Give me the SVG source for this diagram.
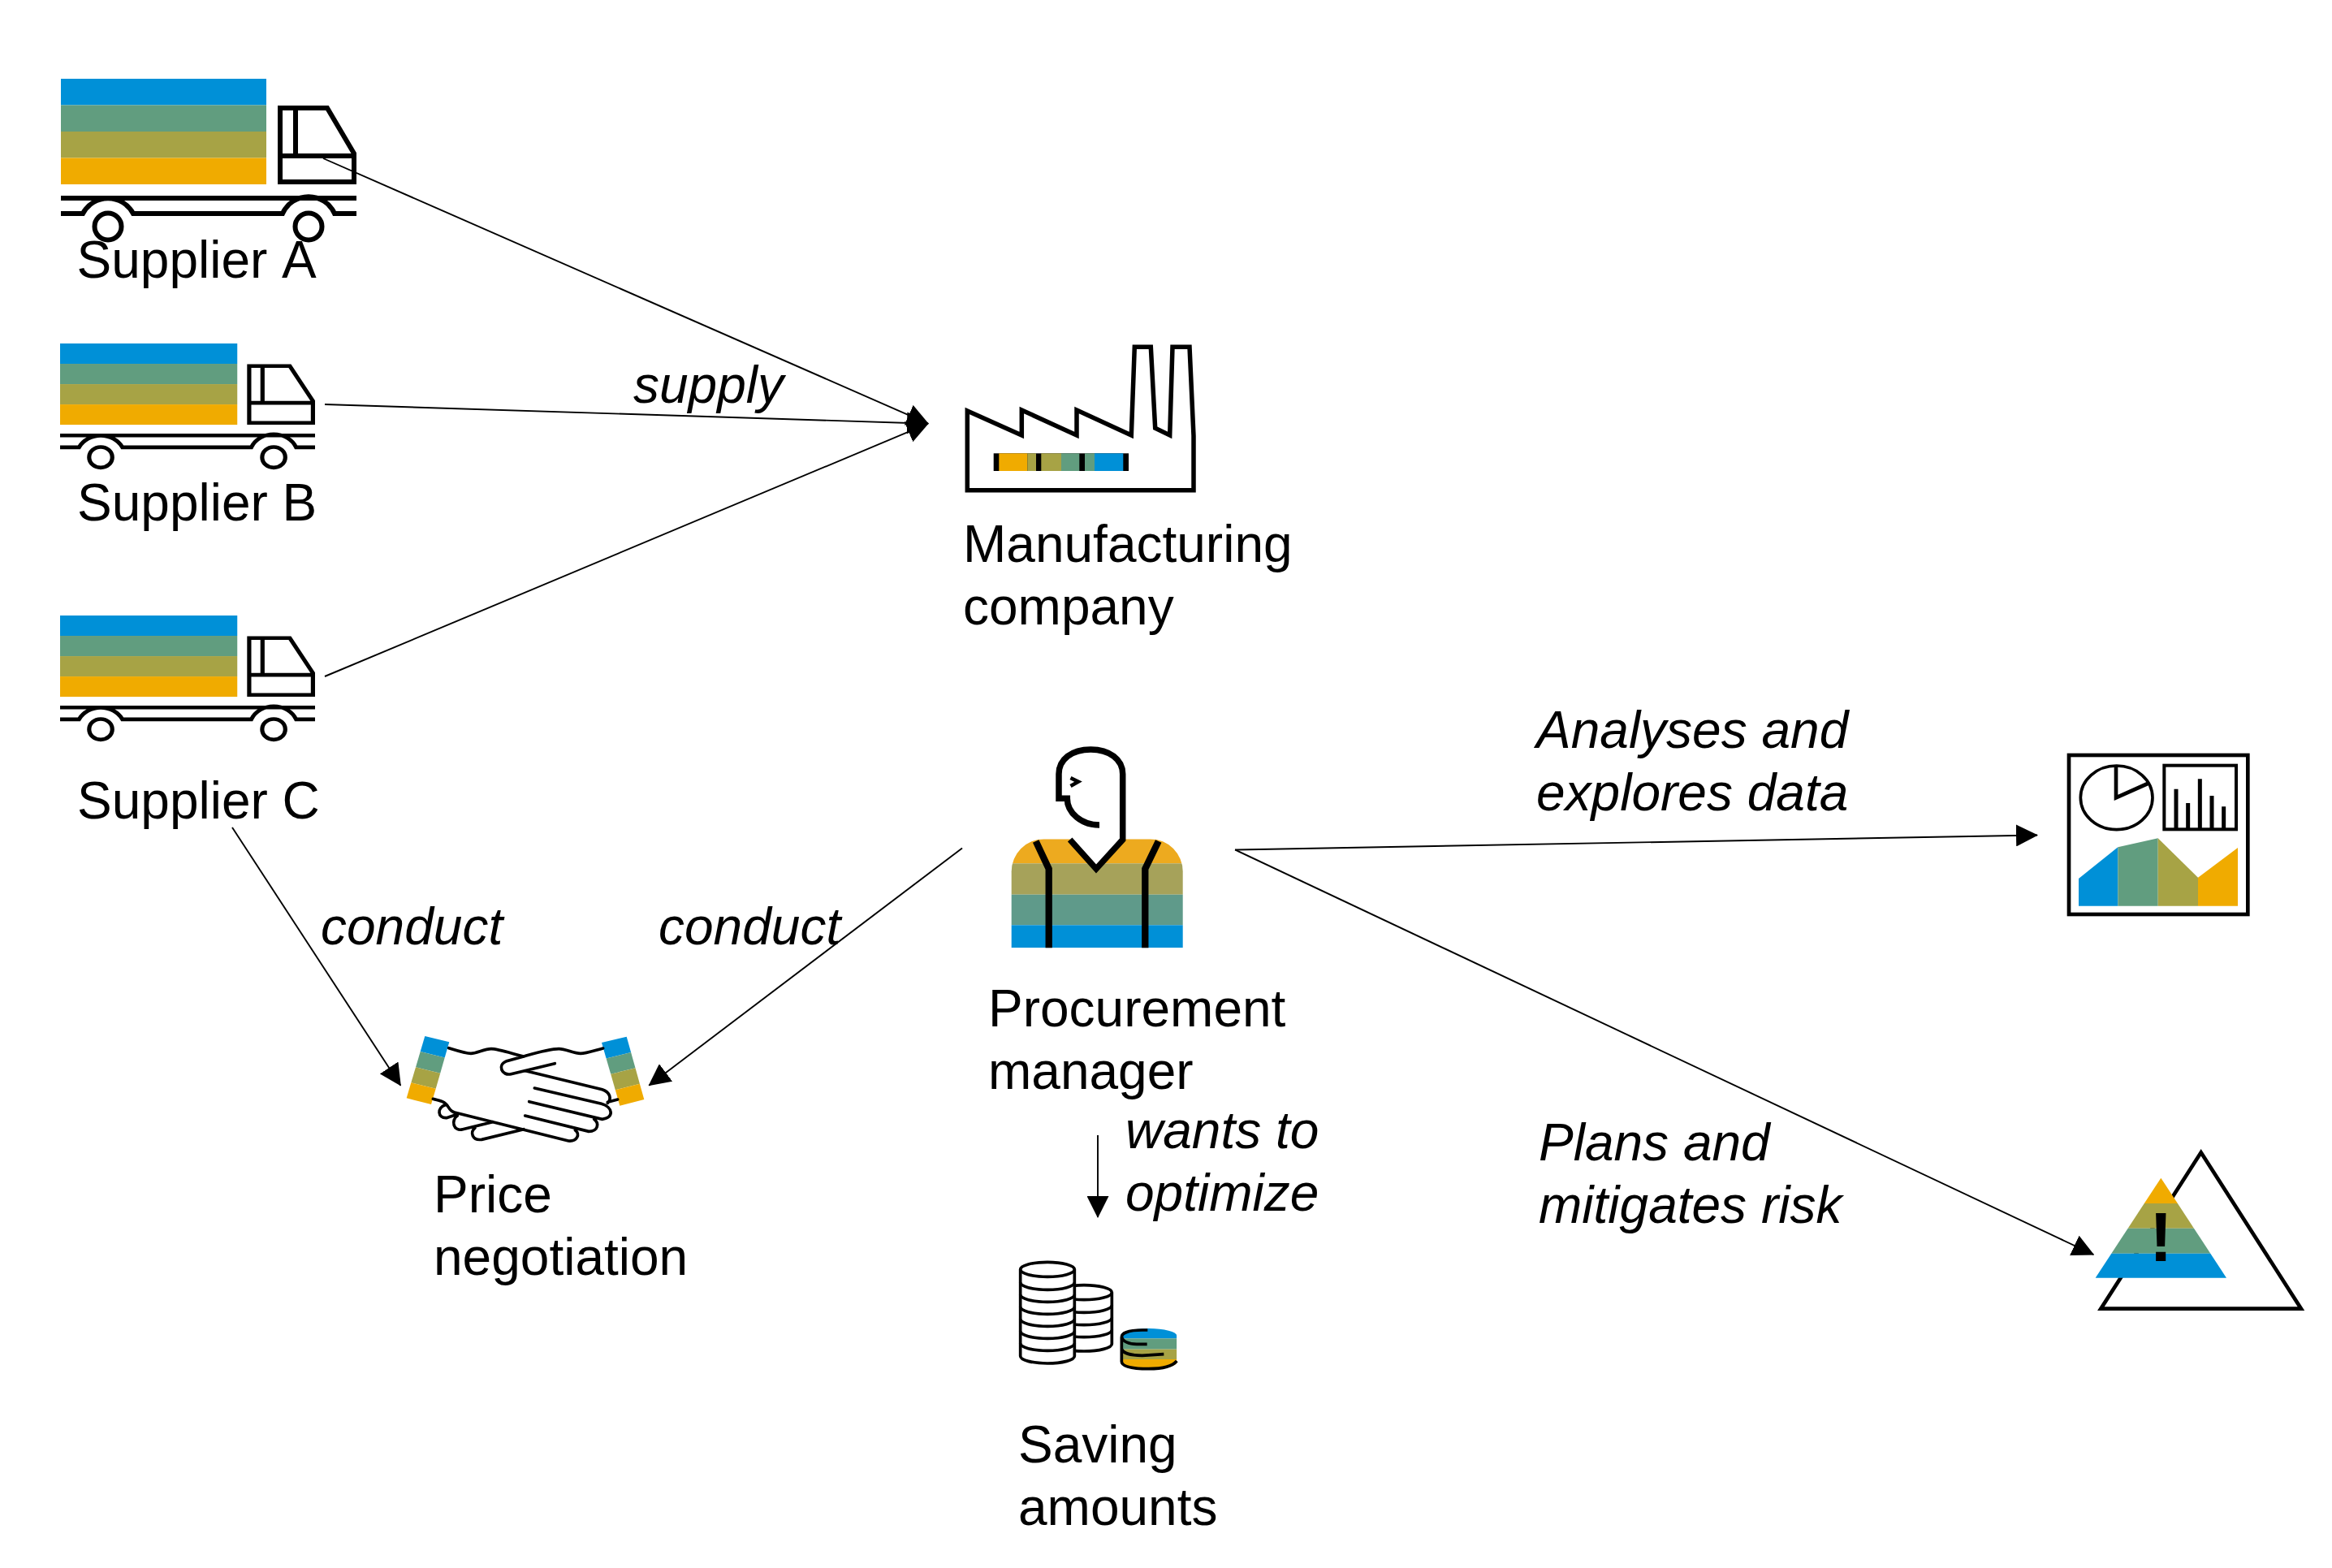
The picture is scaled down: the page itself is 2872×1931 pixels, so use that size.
<svg xmlns="http://www.w3.org/2000/svg" xmlns:xlink="http://www.w3.org/1999/xlink" width="2872" height="1931" viewBox="0 0 2872 1931">
<style>
text{font-family:"Liberation Sans",Arial,sans-serif;font-size:64px;fill:#000}
.i{font-style:italic}
.o{fill:none;stroke:#000;stroke-miterlimit:10}
.b{fill:#0090D7}.g{fill:#619D7F}.l{fill:#A7A345}.y{fill:#F0AB00}.k{fill:#000}
.c{fill:none;stroke:#000;stroke-width:1.9;marker-end:url(#arrow)}
</style>
<defs>
<marker id="arrow" markerUnits="userSpaceOnUse" markerWidth="27" markerHeight="27" refX="26" refY="13.5" orient="auto"><path d="M0 0L27 13.5L0 27z" fill="#000"/></marker>
<g id="truck">
<rect class="b" x="75" y="97" width="253" height="32.5"/><rect class="g" x="75" y="129.5" width="253" height="32.5"/><rect class="l" x="75" y="162" width="253" height="32.5"/><rect class="y" x="75" y="194.5" width="253" height="32.5"/>
<path class="o" stroke-width="6" d="M345 133H403L436 189V224H345ZM345 192H436M364 133V192M75 244H439M75 263H102A35 35 0 0 1 164 263H348A35 35 0 0 1 412 263H439"/>
<circle class="o" stroke-width="6" cx="133" cy="279" r="16.5"/><circle class="o" stroke-width="6" cx="380" cy="279" r="16.5"/>
</g>
<clipPath id="bodyClip"><path d="M1245.7 1167.3V1073.3A40 40 0 0 1 1285.7 1033.3H1416.7A40 40 0 0 1 1456.7 1073.3V1167.3Z"/></clipPath>
<clipPath id="coinClip"><path d="M480 375A104 27 0 0 1 688 375V473A104 27 0 0 1 480 473Z"/></clipPath>
</defs>
<g id="connectors">
<path class="c" d="M398 195L1143 521.7"/>
<path class="c" d="M400 498L1143 521.7"/>
<path class="c" d="M400 833L1143 521.7"/>
<path class="c" d="M286 1019L493.3 1336.7"/>
<path class="c" d="M1185 1044.5L799.3 1336.7"/>
<path class="c" d="M1521 1046.5L2509 1028.5"/>
<path class="c" d="M1521 1046.5L2578.3 1545"/>
<path class="c" d="M1352 1398V1499"/>
</g>
<g id="supplier-a"><use xlink:href="#truck" href="#truck"/><text x="94.5" y="342" style="font-kerning:none">Supplier A</text></g>
<g id="supplier-b"><use xlink:href="#truck" href="#truck" transform="translate(74 423) scale(.8626 .77) translate(-75 -97)"/><text x="95" y="641">Supplier B</text></g>
<g id="supplier-c"><use xlink:href="#truck" href="#truck" transform="translate(74 758) scale(.8626 .77) translate(-75 -97)"/><text x="95" y="1008">Supplier C</text></g>
<g id="manufacturing-company">
<path class="o" stroke-width="5.5" d="M1191.3 506L1258.3 536V505L1326 536V505L1393.3 536L1397.3 427.3H1417.3L1422.7 527.3L1440.7 536L1444 427.3H1465L1470 536.7V603.7H1191.3Z"/>
<rect class="k" x="1223.7" y="558.3" width="166.3" height="21.7"/>
<rect class="y" x="1230.3" y="558.3" width="35" height="21.7"/><rect class="l" x="1265.3" y="558.3" width="10.7" height="21.7"/><rect class="l" x="1282.3" y="558.3" width="24.7" height="21.7"/><rect class="g" x="1307" y="558.3" width="22.3" height="21.7"/><rect class="g" x="1336" y="558.3" width="12" height="21.7"/><rect class="b" x="1348" y="558.3" width="35.3" height="21.7"/>
<text x="1186" y="692">Manufacturing</text><text x="1186" y="769">company</text>
</g>
<g id="procurement-manager">
<g clip-path="url(#bodyClip)">
<rect x="1245" y="1033.3" width="212" height="30" fill="#EDAA1F"/><rect x="1245" y="1063.3" width="212" height="38.4" fill="#A6A25A"/><rect x="1245" y="1101.7" width="212" height="37.6" fill="#5F9A8A"/><rect x="1245" y="1139.3" width="212" height="28" fill="#0090D7"/>
</g>
<path fill="#fff" d="M1317.7 1033L1350 1070L1382.7 1033Z"/>
<path class="o" stroke-width="7.5" d="M1354 1016A39.7 32.7 0 0 1 1314.3 983.3H1304V953.3C1304 935 1320 923 1343.3 923C1366 923 1382.7 935 1382.7 953.3V1034L1350 1070L1317.7 1034"/>
<path class="o" stroke-width="8.3" d="M1275.7 1036L1291.7 1070V1167.3M1426.7 1036L1410.3 1070V1167.3"/>
<path class="o" stroke-width="4.5" d="M1318.5 958L1328 962.7L1318.5 968"/>
<text x="1217" y="1263.5">Procurement</text><text x="1217" y="1340.5">manager</text>
</g>
<g id="price-negotiation">
<polygon class="b" points="523.3,1276 553.3,1283.3 547.7,1302.5 517.7,1295"/><polygon class="g" points="517.7,1295 547.7,1302.5 542.2,1321.7 512,1314.2"/><polygon class="l" points="512,1314.2 542.2,1321.7 536.7,1340.8 506.3,1333.3"/><polygon class="y" points="506.3,1333.3 536.7,1340.8 531,1360 500.7,1352.3"/>
<polygon class="b" points="741,1284 771.7,1276.7 777.1,1296 746.6,1303.4"/><polygon class="g" points="746.6,1303.4 777.1,1296 782.5,1315.3 752.2,1322.8"/><polygon class="l" points="752.2,1322.8 782.5,1315.3 787.9,1334.7 757.8,1342.3"/><polygon class="y" points="757.8,1342.3 787.9,1334.7 793.3,1354 763.3,1361.7"/>
<g transform="translate(470 1240) scale(.33333)">
<path class="o" stroke-width="11" stroke-linecap="round" d="M248 152C280 162 310 172 330 172C350 172 380 155 405 155C430 155 490 175 525 183C570 170 620 155 655 155C680 155 710 172 735 172C755 172 790 160 818 153M640 209L478 248C445 256 425 215 462 200L525 183M535 237L815 305C845 315 850 340 835 355M565 300L812 358C855 370 860 410 815 415L545 350M530 402L765 460C800 460 805 430 785 415M270 390L690 495C722 498 735 470 715 455M190 340C215 346 235 350 245 368C255 385 262 388 275 392M235 362C205 372 205 412 240 410L275 398M280 402C255 418 265 462 300 452L410 425M345 447C325 462 335 495 370 490L525 452M835 352L872 342"/>
</g>
<text x="534" y="1493">Price</text><text x="534" y="1570">negotiation</text>
</g>
<g id="saving-amounts">
<g transform="translate(1220 1520) scale(.33333)">
<path fill="#fff" stroke="#000" stroke-width="11" d="M242 215A103 27 0 0 1 448 215V405A103 27 0 0 1 242 405Z"/>
<path class="o" stroke-width="11" d="M242 215A103 27 0 0 0 448 215M242 262A103 27 0 0 0 448 262M242 308A103 27 0 0 0 448 308M242 353A103 27 0 0 0 448 353"/>
<path fill="#fff" stroke="#000" stroke-width="11" d="M110 130A100 27 0 0 1 310 130V450A100 27 0 0 1 110 450Z"/>
<path class="o" stroke-width="11" d="M110 130A100 27 0 0 0 310 130M110 178A100 27 0 0 0 310 178M110 223A100 27 0 0 0 310 223M110 268A100 27 0 0 0 310 268M110 313A100 27 0 0 0 310 313M110 358A100 27 0 0 0 310 358M110 403A100 27 0 0 0 310 403"/>
<g clip-path="url(#coinClip)">
<rect class="b" x="478" y="346" width="212" height="39"/><rect class="g" x="478" y="385" width="212" height="40"/><rect class="l" x="478" y="425" width="212" height="37"/><rect class="y" x="478" y="462" width="212" height="40"/>
</g>
<path class="o" stroke-width="11" d="M580 354H560C510 354 484 365 484 380V470C484 490 530 497 584 497C630 497 670 490 688 468M578 406H540C510 406 487 395 485 380M640 443L560 448C520 448 490 440 485 425"/>
</g>
<text x="1254" y="1800.5">Saving</text><text x="1254" y="1877.5">amounts</text>
</g>
<g id="data-analysis">
<g transform="translate(2520 910) scale(.33333)">
<rect class="o" stroke-width="14" x="84" y="60" width="661" height="588"/>
<ellipse class="o" stroke-width="11" cx="260" cy="217" rx="133" ry="118"/>
<path class="o" stroke-width="14" d="M258 98V217L375 165"/>
<rect class="o" stroke-width="12" x="436" y="98" width="266" height="236"/>
<path class="o" stroke-width="15" d="M480 334V185M524 334V237M568 334V148M612 334V210M656 334V250"/>
<polygon class="b" points="120,516 265,400 265,617 120,617"/><polygon class="g" points="265,400 413,367 413,617 265,617"/><polygon class="l" points="413,367 561,512 561,617 413,617"/><polygon class="y" points="561,512 708,402 708,617 561,617"/>
</g>
</g>
<g id="risk">
<g transform="translate(2540 1400) scale(.33333)">
<polygon class="o" stroke-width="14" points="512,58 882,635 142,635"/>
<polygon class="y" points="364,152 425.6,246 302.4,246"/><polygon class="l" points="302.4,246 425.6,246 486,338 242,338"/><polygon class="g" points="242,338 486,338 547,431 181,431"/><polygon class="b" points="181,431 547,431 606,521 122,521"/>
</g>
<text x="2661.3" y="1553.3" text-anchor="middle" font-weight="700" style="font-size:86px">!</text>
</g>
<g id="labels">
<text class="i" x="780" y="496">supply</text>
<text class="i" x="395" y="1163">conduct</text>
<text class="i" x="811" y="1163">conduct</text>
<text class="i" x="1892" y="921">Analyses and</text>
<text class="i" x="1892" y="998">explores data</text>
<text class="i" x="1386" y="1414">wants to</text>
<text class="i" x="1386" y="1491">optimize</text>
<text class="i" x="1895" y="1429">Plans and</text>
<text class="i" x="1895" y="1506">mitigates risk</text>
</g>
</svg>
